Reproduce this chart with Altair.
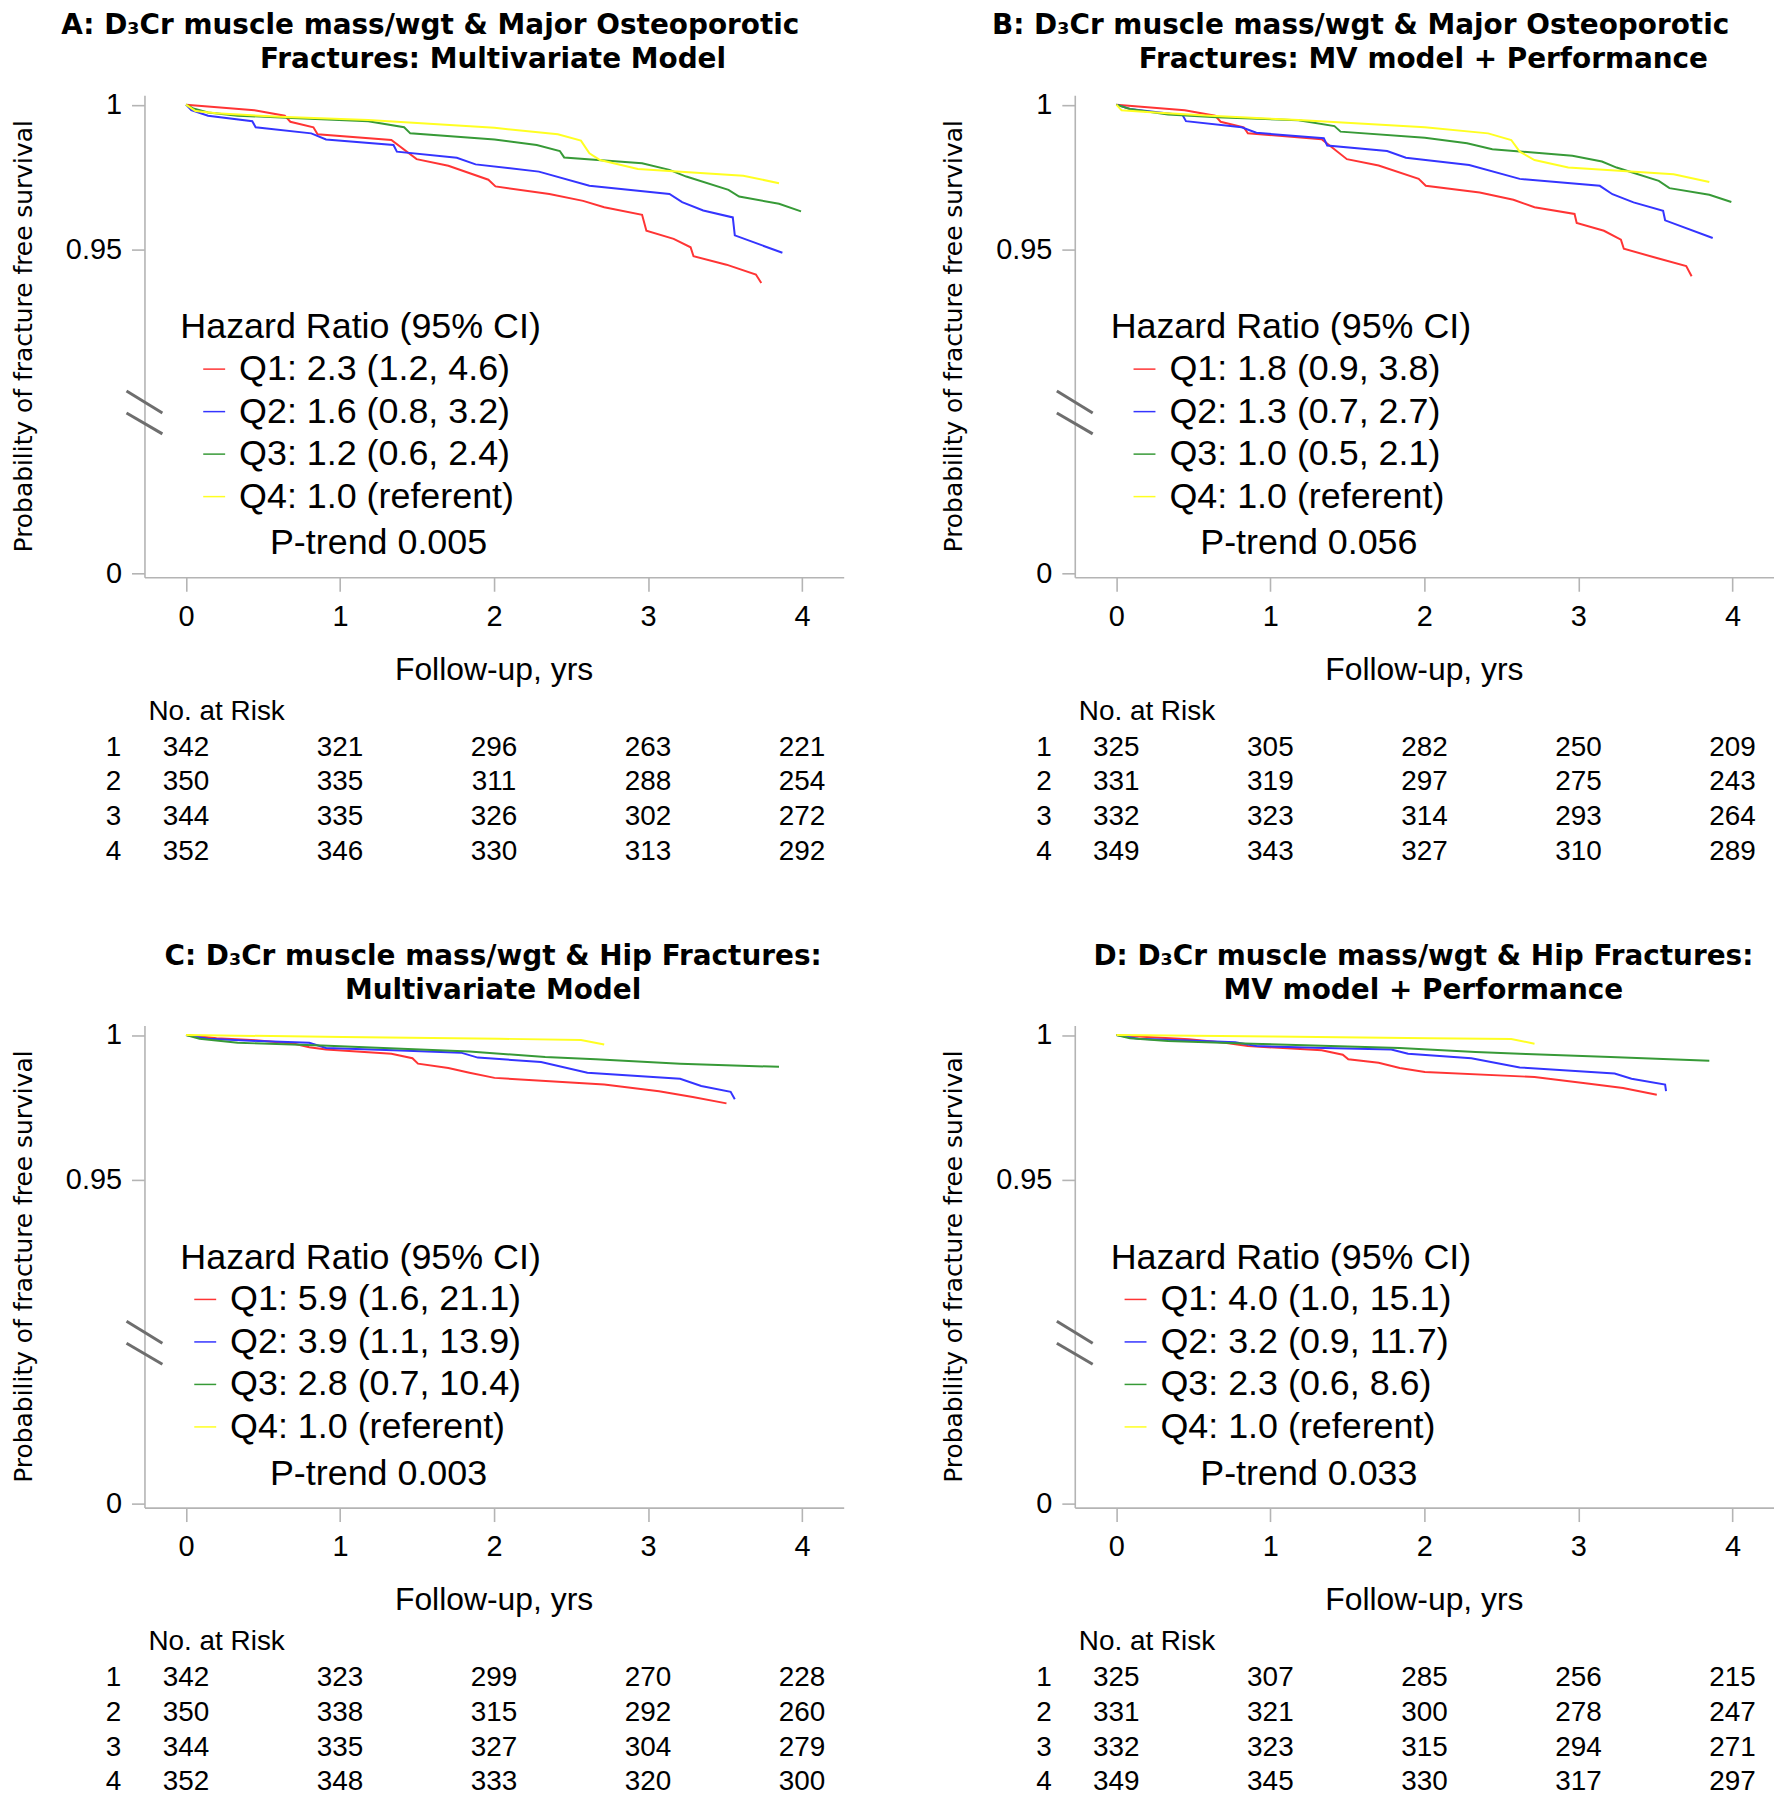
import altair as alt
import pandas as pd

# ---------------- data ----------------
QUARTILES = ["Q1", "Q2", "Q3", "Q4"]
LINE_COLORS = ["#ff3434", "#3434ff", "#379a37", "#ffff22"]
X_TICKS = [0, 1, 2, 3, 4]
Y_TICKS = [0, 0.95, 1]
RISK_TIMES = [0, 1, 2, 3, 4]
RISK_ROWS = [1, 2, 3, 4]

# Panel A
A_Q1_T = [0, 0.444, 0.641, 0.677, 0.827, 0.854, 1.333, 1.497, 1.703, 1.963, 2.009, 2.359, 2.578, 2.715, 2.961, 2.989, 3.166, 3.276, 3.295, 3.509, 3.700, 3.735]
A_Q1_S = [1, 0.9981, 0.9962, 0.9941, 0.9922, 0.9898, 0.9878, 0.9812, 0.9789, 0.9741, 0.9718, 0.9692, 0.9668, 0.9646, 0.9620, 0.9565, 0.9537, 0.9508, 0.9477, 0.9448, 0.9414, 0.9385]
A_Q2_T = [0, 0.034, 0.143, 0.430, 0.452, 0.813, 0.909, 1.347, 1.369, 1.758, 1.880, 2.291, 2.619, 3.139, 3.221, 3.358, 3.550, 3.563, 3.872]
A_Q2_S = [1, 0.9981, 0.9962, 0.9943, 0.9922, 0.9901, 0.9880, 0.9861, 0.9838, 0.9817, 0.9794, 0.9769, 0.9720, 0.9692, 0.9664, 0.9635, 0.9611, 0.9549, 0.9489]
A_Q3_T = [0, 0.047, 0.143, 0.335, 0.650, 1.183, 1.416, 1.456, 2.003, 2.277, 2.427, 2.455, 2.961, 3.139, 3.248, 3.522, 3.591, 3.850, 3.993]
A_Q3_S = [1, 0.9987, 0.9973, 0.9962, 0.9955, 0.9943, 0.9922, 0.9901, 0.9880, 0.9861, 0.9840, 0.9818, 0.9798, 0.9775, 0.9752, 0.9706, 0.9683, 0.9658, 0.9632]
A_Q4_T = [0, 0.061, 0.198, 0.608, 1.183, 2.003, 2.414, 2.564, 2.619, 2.688, 2.934, 3.618, 3.850]
A_Q4_S = [1, 0.9978, 0.9970, 0.9958, 0.9947, 0.9920, 0.9898, 0.9876, 0.9832, 0.9809, 0.9778, 0.9755, 0.9729]
A_HR = ["Q1: 2.3 (1.2, 4.6)", "Q2: 1.6 (0.8, 3.2)", "Q3: 1.2 (0.6, 2.4)", "Q4: 1.0 (referent)"]
A_PTREND = "P-trend 0.005"
A_RISK = [[342, 321, 296, 263, 221], [350, 335, 311, 288, 254], [344, 335, 326, 302, 272], [352, 346, 330, 313, 292]]
A_TITLE = ["A: D\u2083Cr muscle mass/wgt & Major Osteoporotic", "Fractures: Multivariate Model"]

# Panel B
B_Q1_T = [0, 0.444, 0.641, 0.677, 0.827, 0.854, 1.333, 1.497, 1.703, 1.963, 2.009, 2.359, 2.578, 2.715, 2.975, 2.989, 3.166, 3.276, 3.295, 3.509, 3.700, 3.735]
B_Q1_S = [1, 0.9981, 0.9962, 0.9941, 0.9922, 0.9901, 0.9881, 0.9812, 0.9790, 0.9744, 0.9720, 0.9697, 0.9672, 0.9646, 0.9623, 0.9592, 0.9565, 0.9534, 0.9503, 0.9471, 0.9443, 0.9408]
B_Q2_T = [0, 0.088, 0.430, 0.452, 0.813, 0.909, 1.347, 1.369, 1.758, 1.880, 2.291, 2.619, 3.139, 3.221, 3.358, 3.550, 3.563, 3.872]
B_Q2_S = [1, 0.9985, 0.9964, 0.9943, 0.9922, 0.9903, 0.9884, 0.9859, 0.9840, 0.9817, 0.9792, 0.9744, 0.9720, 0.9691, 0.9663, 0.9634, 0.9601, 0.9540]
B_Q3_T = [0, 0.088, 0.335, 0.650, 1.183, 1.416, 1.456, 2.003, 2.277, 2.441, 2.961, 3.153, 3.248, 3.522, 3.591, 3.850, 3.993]
B_Q3_S = [1, 0.9985, 0.9966, 0.9957, 0.9946, 0.9926, 0.9907, 0.9886, 0.9867, 0.9846, 0.9824, 0.9804, 0.9783, 0.9737, 0.9712, 0.9689, 0.9664]
B_Q4_T = [0, 0.034, 0.198, 0.608, 1.183, 2.003, 2.414, 2.564, 2.619, 2.715, 2.934, 3.618, 3.850]
B_Q4_S = [1, 0.9981, 0.9975, 0.9962, 0.9947, 0.9922, 0.9901, 0.9878, 0.9838, 0.9809, 0.9783, 0.9760, 0.9733]
B_HR = ["Q1: 1.8 (0.9, 3.8)", "Q2: 1.3 (0.7, 2.7)", "Q3: 1.0 (0.5, 2.1)", "Q4: 1.0 (referent)"]
B_PTREND = "P-trend 0.056"
B_RISK = [[325, 305, 282, 250, 209], [331, 319, 297, 275, 243], [332, 323, 314, 293, 264], [349, 343, 327, 310, 289]]
B_TITLE = ["B: D\u2083Cr muscle mass/wgt & Major Osteoporotic", "Fractures: MV model + Performance"]

# Panel C
C_Q1_T = [0, 0.198, 0.471, 0.704, 0.800, 0.909, 1.333, 1.470, 1.506, 1.703, 1.840, 2.003, 2.715, 3.071, 3.290, 3.509]
C_Q1_S = [1, 0.9989, 0.9981, 0.9970, 0.9958, 0.9950, 0.9935, 0.9920, 0.9901, 0.9886, 0.9870, 0.9852, 0.9829, 0.9806, 0.9786, 0.9764]
C_Q2_T = [0, 0.143, 0.471, 0.800, 0.909, 1.347, 1.785, 1.894, 2.305, 2.606, 3.208, 3.345, 3.536, 3.563]
C_Q2_S = [1, 0.9987, 0.9979, 0.9973, 0.9955, 0.9947, 0.9939, 0.9922, 0.9907, 0.9870, 0.9849, 0.9824, 0.9804, 0.9778]
C_Q3_T = [0, 0.088, 0.335, 0.882, 1.840, 2.332, 2.661, 3.208, 3.850]
C_Q3_S = [1, 0.9987, 0.9973, 0.9964, 0.9943, 0.9924, 0.9916, 0.9901, 0.9890]
C_Q4_T = [0, 1.019, 2.031, 2.564, 2.715]
C_Q4_S = [1, 0.9993, 0.9987, 0.9983, 0.9967]
C_HR = ["Q1: 5.9 (1.6, 21.1)", "Q2: 3.9 (1.1, 13.9)", "Q3: 2.8 (0.7, 10.4)", "Q4: 1.0 (referent)"]
C_PTREND = "P-trend 0.003"
C_RISK = [[342, 323, 299, 270, 228], [350, 338, 315, 292, 260], [344, 335, 327, 304, 279], [352, 348, 333, 320, 300]]
C_TITLE = ["C: D\u2083Cr muscle mass/wgt & Hip Fractures:", "Multivariate Model"]

# Panel D
D_Q1_T = [0, 0.198, 0.471, 0.704, 0.854, 1.333, 1.470, 1.506, 1.703, 1.840, 2.003, 2.715, 3.071, 3.290, 3.509]
D_Q1_S = [1, 0.9993, 0.9985, 0.9973, 0.9962, 0.9947, 0.9932, 0.9916, 0.9904, 0.9886, 0.9872, 0.9855, 0.9832, 0.9817, 0.9794]
D_Q2_T = [0, 0.143, 0.471, 0.772, 0.909, 1.347, 1.785, 1.894, 2.305, 2.619, 3.235, 3.345, 3.563, 3.569]
D_Q2_S = [1, 0.9987, 0.9981, 0.9975, 0.9962, 0.9955, 0.9950, 0.9935, 0.9920, 0.9888, 0.9867, 0.9849, 0.9829, 0.9806]
D_Q3_T = [0, 0.088, 0.335, 0.882, 1.840, 2.332, 2.661, 3.208, 3.850]
D_Q3_S = [1, 0.9989, 0.9979, 0.9970, 0.9955, 0.9941, 0.9934, 0.9924, 0.9911]
D_Q4_T = [0, 1.019, 2.031, 2.564, 2.715]
D_Q4_S = [1, 0.9995, 0.9989, 0.9986, 0.9970]
D_HR = ["Q1: 4.0 (1.0, 15.1)", "Q2: 3.2 (0.9, 11.7)", "Q3: 2.3 (0.6, 8.6)", "Q4: 1.0 (referent)"]
D_PTREND = "P-trend 0.033"
D_RISK = [[325, 307, 285, 256, 215], [331, 321, 300, 278, 247], [332, 323, 315, 294, 271], [349, 345, 330, 317, 297]]
D_TITLE = ["D: D\u2083Cr muscle mass/wgt & Hip Fractures:", "MV model + Performance"]

Y_TITLE = "Probability of fracture free survival"
X_TITLE = "Follow-up, yrs"
LEGEND_TITLE = "Hazard Ratio (95% CI)"
RISK_TITLE = "No. at Risk"

# ---------------- styling / layout ----------------
FONT = "Liberation Sans"
TITLE_FONT = "DejaVu Sans"
AXIS_GRAY = "#b4b4b4"
W, H = 702, 484

x_scale = alt.Scale(domain=[-0.27, 4.27], nice=False, zero=False)
# broken axis: 0 shown at bottom, 0.9 .. 1 stretched
y_scale = alt.Scale(domain=[-0.02, 0, 0.9, 1.0, 1.00326],
                    range=[484, 480, 300.5, 9.5, 0], nice=False, zero=False)
x_axis = alt.Axis(values=X_TICKS, format="d", title=None, tickSize=14, labelPadding=11,
                  labelFontSize=29, labelFlush=False, labelOverlap=False, grid=False)
y_axis = alt.Axis(values=Y_TICKS, format=".2~f", title=None, tickSize=13, labelPadding=10,
                  labelFontSize=29, labelOverlap=False, grid=False)
color = alt.Color("q:N", scale=alt.Scale(domain=QUARTILES, range=LINE_COLORS), legend=None)


def one_row(**kw):
    return pd.DataFrame({k: [v] for k, v in kw.items()})


def label(txt, x, y, size, align="left", font=FONT, weight="normal", angle=0):
    return alt.Chart(one_row(txt=txt)).mark_text(
        align=align, baseline="middle", fontSize=size, font=font, fontWeight=weight,
        angle=angle, color="black").encode(text="txt:N", x=alt.value(x), y=alt.value(y))


def panel(curves, hr, ptrend, risk, title, t1x, kdx, anchor):
    rows = []
    for q, (ts, ss) in zip(QUARTILES, curves):
        for i, (t, s) in enumerate(zip(ts, ss)):
            rows.append({"q": q, "t": t, "s": s, "i": i})
    cdf = pd.DataFrame(rows)
    lines = alt.Chart(cdf).mark_line(strokeWidth=2).encode(
        x=alt.X("t:Q", scale=x_scale, axis=x_axis),
        y=alt.Y("s:Q", scale=y_scale, axis=y_axis),
        color=color, order="i:Q")

    # legend block
    ldf = pd.DataFrame({"q": QUARTILES, "label": hr, "row": RISK_ROWS})
    lscale = alt.Scale(domain=[1, 4], range=[275, 403], nice=False, zero=False)
    swatch = alt.Chart(ldf).mark_rule(strokeWidth=1.5).encode(
        x=alt.value(59 + kdx), x2=alt.value(81 + kdx),
        y=alt.Y("row:Q", scale=lscale, axis=None), color=color)
    ltext = alt.Chart(ldf).mark_text(align="left", baseline="middle", fontSize=36, font=FONT,
                                     color="black").encode(
        x=alt.value(95 + kdx), y=alt.Y("row:Q", scale=lscale, axis=None), text="label:N")
    legend_layer = alt.layer(swatch, ltext)

    # number at risk table
    trows = []
    for r, counts in zip(RISK_ROWS, risk):
        for t, n in zip(RISK_TIMES, counts):
            trows.append({"row": r, "t": t, "n": n})
    tdf = pd.DataFrame(trows)
    tscale = alt.Scale(domain=[1, 4], range=[655, 760], nice=False, zero=False)
    nums = alt.Chart(tdf).mark_text(align="center", baseline="middle", fontSize=28, font=FONT,
                                    color="black").encode(
        x=alt.X("t:Q", scale=x_scale, axis=x_axis),
        y=alt.Y("row:Q", scale=tscale, axis=None), text="n:Q")
    rlab = alt.Chart(pd.DataFrame({"row": RISK_ROWS})).mark_text(
        align="center", baseline="middle", fontSize=28, font=FONT, color="black").encode(
        x=alt.value(-31), y=alt.Y("row:Q", scale=tscale, axis=None), text="row:N")
    table_layer = alt.layer(nums, rlab)

    one = one_row(k=0)
    brk1 = alt.Chart(one).mark_rule(color="#6e6e6e", strokeWidth=3).encode(
        x=alt.value(-18), x2=alt.value(18), y=alt.value(297), y2=alt.value(319))
    brk2 = alt.Chart(one).mark_rule(color="#6e6e6e", strokeWidth=3).encode(
        x=alt.value(-18), x2=alt.value(18), y=alt.value(319), y2=alt.value(340))

    layers = [
        lines, legend_layer, table_layer, brk1, brk2,
        label(LEGEND_TITLE, 36, 233, 36),
        label(ptrend, 126, 450, 36),
        label(RISK_TITLE, 4, 619, 28),
        label(X_TITLE, 351, 577, 32, align="center"),
        label(Y_TITLE, -121, 242, 25, align="center", font="DejaVu Sans", angle=270),
        label(title[0], t1x, -69, 28, align="center", font=TITLE_FONT, weight="bold"),
        label(title[1], 350, -35, 28, align="center", font=TITLE_FONT, weight="bold"),
    ]
    if anchor:
        layers.append(alt.Chart(one).mark_rule(opacity=0, strokeWidth=0.1).encode(
            x=alt.value(-137), x2=alt.value(-137), y=alt.value(-84), y2=alt.value(-84)))
    return alt.layer(*layers).resolve_scale(y="independent").properties(width=W, height=H)


pA = panel([(A_Q1_T, A_Q1_S), (A_Q2_T, A_Q2_S), (A_Q3_T, A_Q3_S), (A_Q4_T, A_Q4_S)],
           A_HR, A_PTREND, A_RISK, A_TITLE, 287, 0, True)
pB = panel([(B_Q1_T, B_Q1_S), (B_Q2_T, B_Q2_S), (B_Q3_T, B_Q3_S), (B_Q4_T, B_Q4_S)],
           B_HR, B_PTREND, B_RISK, B_TITLE, 287, 0, False)
pC = panel([(C_Q1_T, C_Q1_S), (C_Q2_T, C_Q2_S), (C_Q3_T, C_Q3_S), (C_Q4_T, C_Q4_S)],
           C_HR, C_PTREND, C_RISK, C_TITLE, 350, -9, False)
pD = panel([(D_Q1_T, D_Q1_S), (D_Q2_T, D_Q2_S), (D_Q3_T, D_Q3_S), (D_Q4_T, D_Q4_S)],
           D_HR, D_PTREND, D_RISK, D_TITLE, 350, -9, False)

chart = alt.concat(pA, pB, pC, pD, columns=2,
                   spacing={"row": 450, "column": 232}, bounds="flush").configure_view(
    stroke=None).configure_axis(
    domainColor=AXIS_GRAY, tickColor=AXIS_GRAY, domainWidth=1.6, tickWidth=1.6,
    labelFont=FONT, labelColor="black", grid=False).properties(padding=0)

chart.save("out.html", embed_options={"renderer": "svg", "actions": False})
